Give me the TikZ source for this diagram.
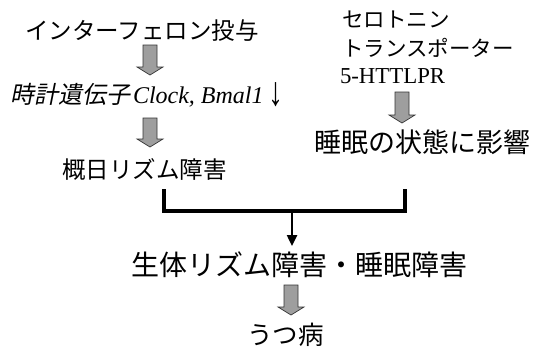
\documentclass[tikz,border=0pt]{standalone}
\usepackage{fontspec}
\setmainfont{Liberation Serif}
\newfontfamily\jp{Noto Sans CJK JP}
\newfontfamily\jpit{Noto Sans CJK JP}[FakeSlant=0.2]
\usetikzlibrary{calc,arrows.meta}
\tikzset{
  lbl/.style={anchor=west,inner sep=0pt,outer sep=0pt},
  fatarr/.style={fill=black!38,draw=black!80,line width=0.7pt},
  brace/.style={draw=black,line width=3.4pt,line cap=butt,line join=miter},
  downarr/.style={draw=black,line width=2.4pt,-{Triangle[width=10pt,length=11pt]}}
}
\newcommand\fatarrow[2]{%
  \path[fatarr] let \p1=(#1), \p2=(#2) in
    (\x1-7pt,\y1) -- (\x1+7pt,\y1) -- (\x1+7pt,\y2+8pt) -- (\x1+13pt,\y2+8pt)
    -- (\x1,\y2) -- (\x1-13pt,\y2+8pt) -- (\x1-7pt,\y2+8pt) -- cycle;}
\begin{document}
\begin{tikzpicture}[x=1pt,y=1pt]
\useasboundingbox (0,0) rectangle (537,-349);
% texts
\node[lbl] (ifn) at (25,-31) {\fontsize{23.5}{26}\jp インターフェロン投与};
\node[lbl] (clk) at (10,-95) {\fontsize{24}{27}\selectfont{\jpit 時計遺伝子}\hspace{3pt}\textit{Clock, Bmal1}\hspace{5pt}\raisebox{-2pt}{\scalebox{1.25}[1.7]{↓}}};
\node[lbl] (circ) at (62,-169) {\fontsize{23.5}{26}\jp 概日リズム障害};
\node[lbl] (sero) at (342,-19) {\fontsize{21.5}{24}\jp セロトニン};
\node[lbl] (trans) at (342,-48) {\fontsize{21.5}{24}\jp トランスポーター};
\node[lbl] (htt) at (340,-76) {\fontsize{22.8}{26}\selectfont 5-HTTLPR};
\node[lbl] (sleep) at (314,-142) {\fontsize{27}{30}\jp 睡眠の状態に影響};
\node[lbl] (bio) at (131,-265) {\fontsize{28}{31}\jp 生体リズム障害・睡眠障害};
\node[lbl] (dep) at (247,-335) {\fontsize{25.5}{28}\jp うつ病};
% fat arrows
\coordinate (a1s) at (150,-45);  \coordinate (a1e) at (150,-75);
\coordinate (a2s) at (150,-118); \coordinate (a2e) at (150,-147);
\coordinate (a3s) at (402,-92);  \coordinate (a3e) at (402,-123);
\coordinate (a4s) at (291,-285); \coordinate (a4e) at (291,-315);
\fatarrow{a1s}{a1e}
\fatarrow{a2s}{a2e}
\fatarrow{a3s}{a3e}
\fatarrow{a4s}{a4e}
% bracket
\coordinate (bl) at (164,-189);
\coordinate (br) at (405,-189);
\coordinate (bm) at (292,-211);
\coordinate (bt) at (292,-246);
\draw[brace] (bl) |- (bm) -| (br);
\draw[downarr] (bm) -- (bt);
\end{tikzpicture}
\end{document}
